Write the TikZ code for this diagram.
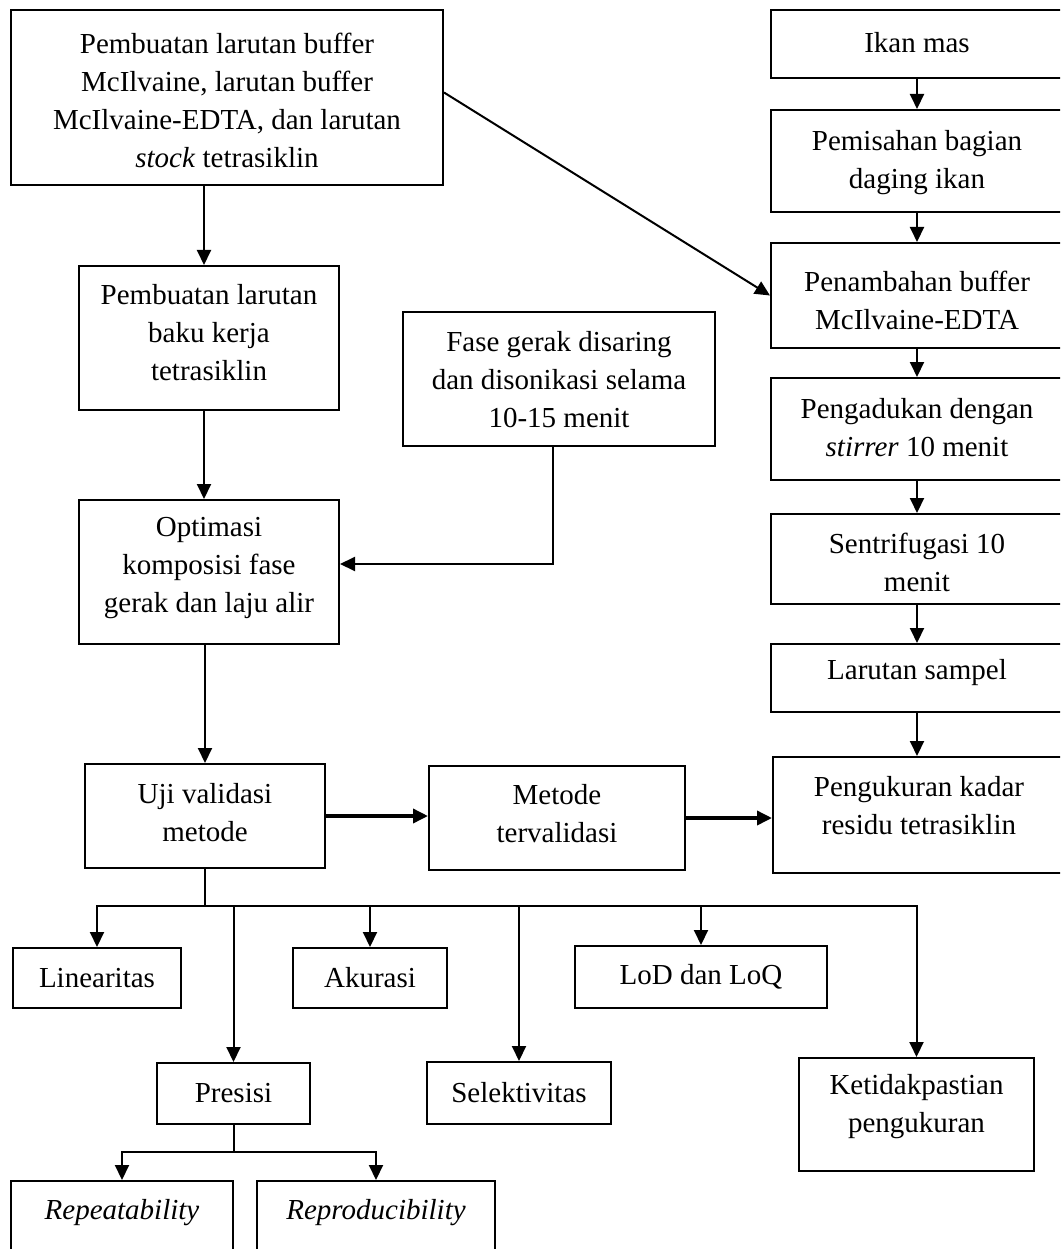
\documentclass[tikz,border=0pt]{standalone}
\usepackage{fontspec}
\setmainfont{Liberation Serif}
\usetikzlibrary{arrows.meta}
\tikzset{
  bx/.style={draw, line width=2pt, inner sep=0pt, rectangle},
  tx/.style={align=center, inner sep=0pt, font=\fontsize{29}{38}\selectfont},
  arr/.style={line width=2pt, -{Triangle[length=15pt,width=14pt]}},
  ln/.style={line width=2pt},
}
\newcommand\mkbox[7]{%
  \node[bx, minimum width={(#4)-(#2)}, minimum height={(#5)-(#3)}] (#1) at ({((#2)+(#4))/2},{((#3)+(#5))/2}) {};
  \node[tx] (#1t) at ({((#2)+(#4))/2},#6) {#7};
}
\begin{document}
\begin{tikzpicture}[x=1pt,y=-1pt]
\fill[white] (0,0) rectangle (1060,1249);
\useasboundingbox (0,0) rectangle (1060,1249);
\clip (0,0) rectangle (1060,1249);

\mkbox{A}{11}{10}{443}{185}{100}{Pembuatan larutan buffer\\McIlvaine, larutan buffer\\McIlvaine-EDTA, dan larutan\\\textit{stock} tetrasiklin}
\mkbox{B}{79}{266}{339}{410}{333}{Pembuatan larutan\\baku kerja\\tetrasiklin}
\mkbox{F}{403}{312}{715}{446}{380}{Fase gerak disaring\\dan disonikasi selama\\10-15 menit}
\mkbox{C}{79}{500}{339}{644}{568}{Optimasi\\komposisi fase\\gerak dan laju alir}
\mkbox{R1}{771}{10}{1063}{78}{43}{Ikan mas}
\mkbox{R2}{771}{110}{1063}{212}{163}{Pemisahan bagian\\daging ikan}
\mkbox{R3}{771}{243}{1063}{348}{300}{Penambahan buffer\\McIlvaine-EDTA}
\mkbox{R4}{771}{378}{1063}{480}{428}{Pengadukan dengan\\\textit{stirrer} 10 menit}
\mkbox{R5}{771}{514}{1063}{604}{562}{Sentrifugasi 10\\menit}
\mkbox{R6}{771}{644}{1063}{712}{673}{Larutan sampel}
\mkbox{R7}{773}{757}{1065}{873}{806}{Pengukuran kadar\\residu tetrasiklin}
\mkbox{U}{85}{764}{325}{868}{813}{Uji validasi\\metode}
\mkbox{M}{429}{766}{685}{870}{814}{Metode\\tervalidasi}
\mkbox{Lin}{13}{948}{181}{1008}{978}{Linearitas}
\mkbox{Aku}{293}{948}{447}{1008}{978}{Akurasi}
\mkbox{LoD}{575}{946}{827}{1008}{977}{LoD dan LoQ}
\mkbox{Pre}{157}{1063}{310}{1124}{1093}{Presisi}
\mkbox{Sel}{427}{1062}{611}{1124}{1093}{Selektivitas}
\mkbox{Ket}{799}{1058}{1034}{1171}{1107}{Ketidakpastian\\pengukuran}
\mkbox{Rep}{11}{1181}{233}{1270}{1213}{\textit{Repeatability}}
\mkbox{Repro}{257}{1181}{495}{1270}{1213}{\textit{Reproducibility}}

\coordinate (ax) at (204,0);
\coordinate (fx) at (553,0);
\draw[arr] (A.south -| ax) -- (B.north -| ax);
\draw[arr] (B.south -| ax) -- (C.north -| ax);
\draw[arr] ([yshift=5pt]A.east) -- (R3.west);
\draw[arr] (F.south -| fx) |- ([yshift=8pt]C.east);
\foreach \a/\b in {R1/R2,R2/R3,R3/R4,R4/R5,R5/R6}
  \draw[arr] (\a.south) -- (\b.north);
\draw[arr] (R6.south) -- (R6.south |- R7.north);
\draw[arr] (C.south -| U.north) -- (U.north);
\draw[arr, line width=3.5pt] (U.east) -- (U.east -| M.west);
\draw[arr, line width=3.5pt] (M.east) -- (M.east -| R7.west);

\coordinate (bus) at (205,906);
\draw[ln] (U.south) -- (bus);
\draw[ln, line cap=rect] (bus -| Lin.north) -- (bus -| Ket.north);
\foreach \c in {Lin,Pre,Aku,Sel,LoD,Ket}
  \draw[arr] (bus -| \c.north) -- (\c.north);

\coordinate (bus2) at (233,1152);
\draw[ln] (Pre.south) -- (Pre.south |- bus2);
\draw[ln, line cap=rect] (bus2 -| Rep.north) -- (bus2 -| Repro.north);
\foreach \c in {Rep,Repro}
  \draw[arr] (bus2 -| \c.north) -- (\c.north);
\end{tikzpicture}
\end{document}
